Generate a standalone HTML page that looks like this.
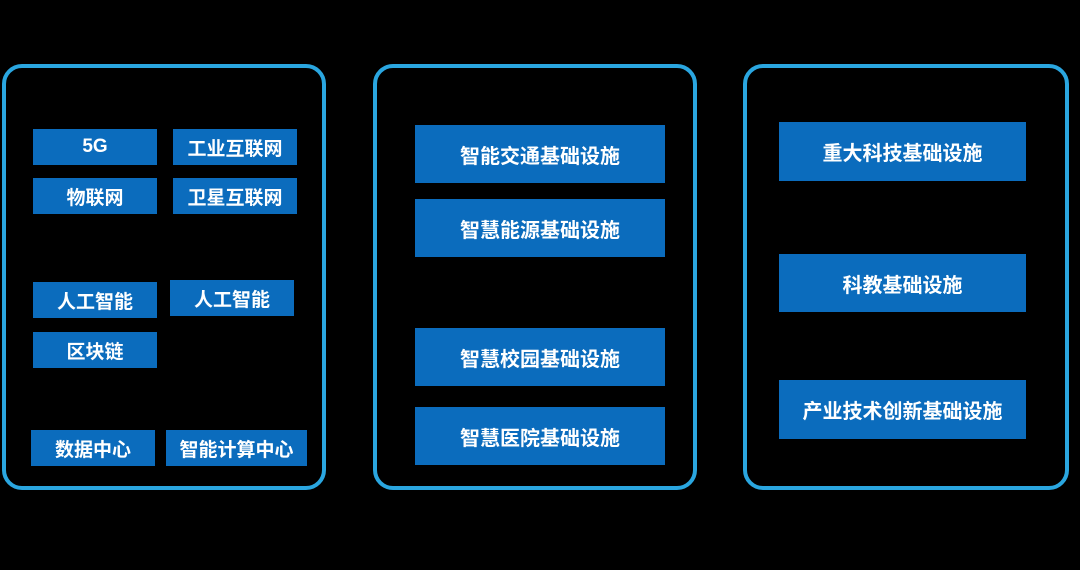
<!DOCTYPE html>
<html><head><meta charset="utf-8"><style>
html,body{margin:0;padding:0;background:#000;width:1080px;height:570px;overflow:hidden;position:relative;font-family:"Liberation Sans","Noto Sans CJK SC",sans-serif;}
.p{position:absolute;border:4px solid #2aa6e0;border-radius:20px;box-sizing:border-box;}
.b{position:absolute;background:#0b6cbd;color:#fff;font-weight:bold;display:flex;align-items:center;justify-content:center;font-size:19px;white-space:nowrap;}
.m{font-size:20px;}
</style></head><body>
<div class="p" style="left:2px;top:64px;width:324px;height:426px"></div>
<div class="p" style="left:373px;top:64px;width:324px;height:426px"></div>
<div class="p" style="left:743px;top:64px;width:326px;height:426px"></div>

<div class="b" style="left:33px;top:129px;width:124px;height:36px">5G</div>
<div class="b" style="left:173px;top:129px;width:124px;height:36px">工业互联网</div>
<div class="b" style="left:33px;top:178px;width:124px;height:36px">物联网</div>
<div class="b" style="left:173px;top:178px;width:124px;height:36px">卫星互联网</div>
<div class="b" style="left:33px;top:282px;width:124px;height:36px">人工智能</div>
<div class="b" style="left:170px;top:280px;width:124px;height:36px">人工智能</div>
<div class="b" style="left:33px;top:332px;width:124px;height:36px">区块链</div>
<div class="b" style="left:31px;top:430px;width:124px;height:36px">数据中心</div>
<div class="b" style="left:166px;top:430px;width:141px;height:36px">智能计算中心</div>

<div class="b m" style="left:415px;top:125px;width:250px;height:58px">智能交通基础设施</div>
<div class="b m" style="left:415px;top:199px;width:250px;height:58px">智慧能源基础设施</div>
<div class="b m" style="left:415px;top:328px;width:250px;height:58px">智慧校园基础设施</div>
<div class="b m" style="left:415px;top:407px;width:250px;height:58px">智慧医院基础设施</div>

<div class="b m" style="left:779px;top:122px;width:247px;height:59px">重大科技基础设施</div>
<div class="b m" style="left:779px;top:254px;width:247px;height:58px">科教基础设施</div>
<div class="b m" style="left:779px;top:380px;width:247px;height:59px">产业技术创新基础设施</div>
</body></html>
